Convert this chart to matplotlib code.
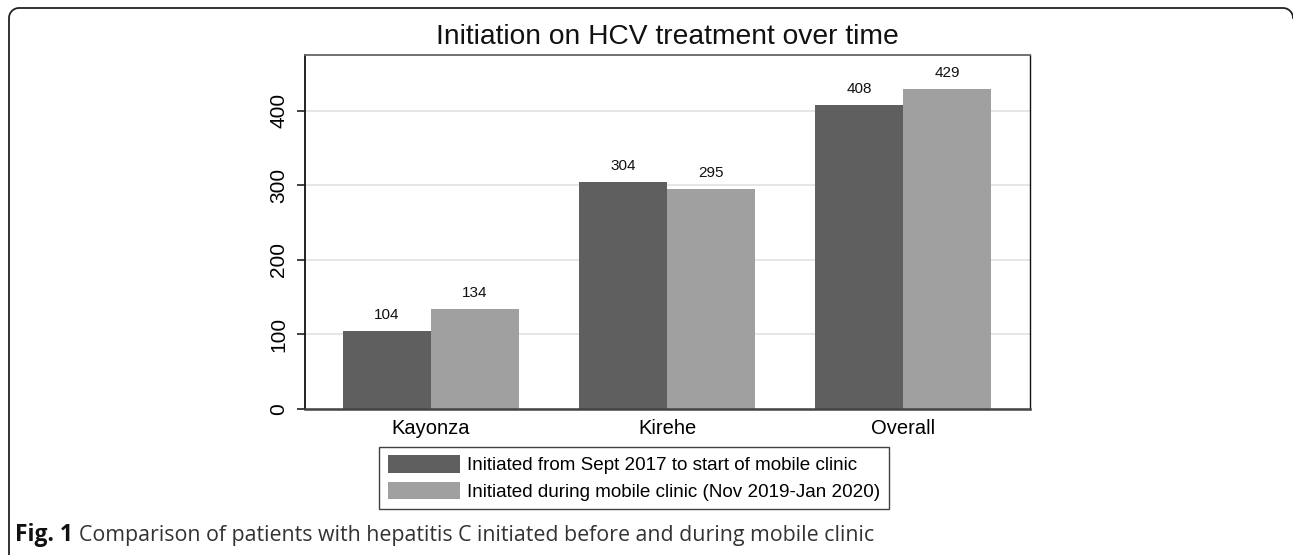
import matplotlib
matplotlib.use("Agg")
import matplotlib.pyplot as plt
import numpy as np
from matplotlib.lines import Line2D

# --- data ---------------------------------------------------------------
sites = ["Kayonza", "Kirehe", "Overall"]
before_mobile = [104, 304, 408]
during_mobile = [134, 295, 429]
series_labels = [
    "Initiated from Sept 2017 to start of mobile clinic",
    "Initiated during mobile clinic (Nov 2019-Jan 2020)",
]
y_ticks = [0, 100, 200, 300, 400]

W, H = 1293, 555
plt.rcParams["font.family"] = ["Liberation Sans", "DejaVu Sans"]

fig = plt.figure(figsize=(W / 100, H / 100), dpi=100)
fig.set_facecolor("white")

# rounded outer frame: left side + top edge with quarter-arc corners (pixels)
r = 10
t = np.linspace(0, np.pi / 2, 12)
px = np.concatenate([[9], 9 + r - r * np.cos(t), 1293 - r + r * np.sin(t)])
py = np.concatenate([[555], 8 + r - r * np.sin(t), 8 + r - r * np.cos(t)])
fig.add_artist(Line2D(px / W, 1 - py / H, transform=fig.transFigure,
                      color="#222222", linewidth=1.3))

ax = fig.add_axes([305 / W, (H - 409) / H, (1030 - 305) / W, (409 - 55) / H])

x = np.arange(len(sites))
width = 0.373
dark, light = "#5f5f5f", "#a0a0a0"
b1 = ax.bar(x - width / 2, before_mobile, width, color=dark, zorder=2,
            label=series_labels[0])
b2 = ax.bar(x + width / 2, during_mobile, width, color=light, zorder=2,
            label=series_labels[1])

# value labels above each bar
for bars in (b1, b2):
    for rect in bars:
        ax.annotate(f"{int(rect.get_height())}",
                    xy=(rect.get_x() + rect.get_width() / 2, rect.get_height()),
                    xytext=(0, 6.5), textcoords="offset points",
                    ha="center", va="bottom", fontsize=11, color="#111111")

ax.set_xlim(-0.534, 2.538)
ax.set_ylim(0, 475)
ax.set_yticks(y_ticks)
ax.set_yticklabels([str(v) for v in y_ticks], rotation=90, va="center",
                   fontsize=15)
ax.set_xticks(x)
ax.set_xticklabels(sites, fontsize=14.5)
ax.tick_params(axis="x", length=0, pad=7)
ax.tick_params(axis="y", length=6, width=1.2, pad=6, color="#222222")
ax.grid(axis="y", color="#e4e4e4", linewidth=1.3, zorder=0)
ax.set_axisbelow(True)

ax.spines["left"].set_color("#111111")
ax.spines["left"].set_linewidth(1.3)
ax.spines["bottom"].set_color("#444444")
ax.spines["bottom"].set_linewidth(1.8)
ax.spines["top"].set_color("#666666")
ax.spines["top"].set_linewidth(1.3)
ax.spines["right"].set_color("#111111")
ax.spines["right"].set_linewidth(1.0)

fig.text(667 / W, 1 - 37 / H, "Initiation on HCV treatment over time",
         ha="center", va="center", fontsize=20.3, color="#111111")

leg = fig.legend(handles=[b1, b2], loc="center",
                 bbox_to_anchor=(634 / W, 1 - 478 / H), fontsize=13.6,
                 frameon=True, fancybox=False, edgecolor="#111111",
                 handlelength=3.8, handleheight=1.05, labelspacing=0.38,
                 handletextpad=0.4, borderpad=0.45, borderaxespad=0)
leg.get_frame().set_linewidth(1.0)

# caption
cap_font = ["Open Sans", "DejaVu Sans"]
fig.text(15 / W, 1 - 535 / H, "Fig. 1", fontsize=16.5, fontweight="bold",
         family=cap_font, va="center", ha="left", color="#111111")
fig.text(79 / W, 1 - 535 / H,
         "Comparison of patients with hepatitis C initiated before and during mobile clinic",
         fontsize=15.4, family=cap_font, va="center", ha="left",
         color="#333333")

fig.savefig("out.png", dpi=100)
